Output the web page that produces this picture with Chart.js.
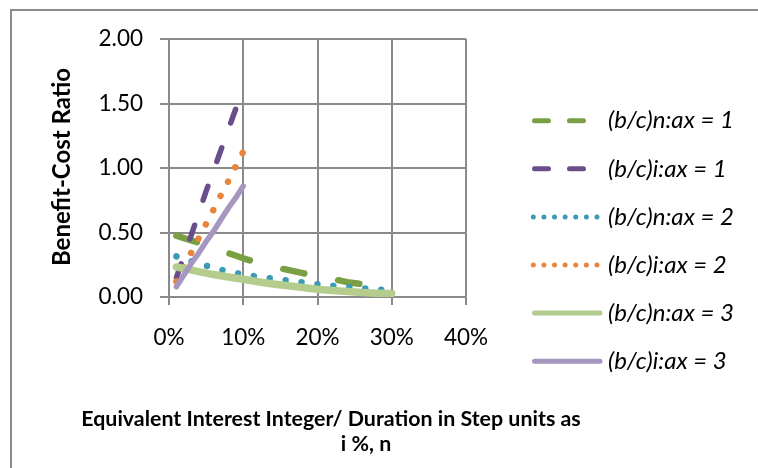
<!DOCTYPE html>
<html><head><meta charset="utf-8">
<script src="https://cdn.jsdelivr.net/npm/chart.js@4.4.1/dist/chart.umd.min.js"></script>
<style>html,body{margin:0;padding:0;background:#fff;overflow:hidden}#wrap{width:758px;height:468px;position:relative}</style>
</head><body><div id="wrap"><canvas id="c" width="758" height="468"></canvas></div>
<script>
// ---- data (x in %, y = benefit-cost ratio) ----
const seriesLabels = ['(b/c)n:ax = 1', '(b/c)i:ax = 1', '(b/c)n:ax = 2', '(b/c)i:ax = 2', '(b/c)n:ax = 3', '(b/c)i:ax = 3'];
const xTickValues = [0, 10, 20, 30, 40];
const yTickValues = [0, 0.5, 1.0, 1.5, 2.0];
const xTitleLines = ['Equivalent Interest Integer/ Duration in Step units as', 'i %, n'];
const yTitle = 'Benefit-Cost Ratio';

const nStepsShort = [1, 2, 4, 6, 8, 10, 12, 14, 16, 18, 20, 22, 24, 26, 28];
const nSteps = [1, 2, 4, 6, 8, 10, 12, 14, 16, 18, 20, 22, 24, 26, 28, 30];
const iSteps = [1, 2, 3, 4, 5, 6, 7, 8, 9, 10];

const bcN1 = [0.475, 0.457, 0.42, 0.38, 0.34, 0.30, 0.265, 0.235, 0.21, 0.185, 0.16, 0.14, 0.115, 0.10, 0.085];
const bcI1 = [0.15, 0.32, 0.48, 0.65, 0.82, 0.98, 1.14, 1.30, 1.46, 1.61];
const bcN2 = [0.315, 0.296, 0.26, 0.225, 0.198, 0.175, 0.157, 0.142, 0.128, 0.113, 0.099, 0.087, 0.076, 0.067, 0.059, 0.052];
const bcI2 = [0.12, 0.23, 0.345, 0.455, 0.567, 0.678, 0.79, 0.90, 1.015, 1.126];
const bcN3 = [0.233, 0.222, 0.197, 0.174, 0.155, 0.137, 0.118, 0.101, 0.087, 0.073, 0.060, 0.050, 0.042, 0.035, 0.030, 0.027];
const bcI3 = [0.08, 0.17, 0.26, 0.34, 0.43, 0.51, 0.60, 0.69, 0.77, 0.86];

const pts = (xs, ys) => xs.map((x, k) => ({x: x, y: ys[k]}));

const styles = [
  {c: '#7BA043', w: 6.5, dash: [21.5, 34.5], ldash: [14, 21]},
  {c: '#6A4E8C', w: 5.5, dash: [14.5, 26.5], ldash: [14, 21]},
  {c: '#3C9AB4', w: 6.5, dash: [0.01, 16], ldash: [0.01, 10.6]},
  {c: '#E8853A', w: 6.5, dash: [0.01, 16.05], ldash: [0.01, 10.6]},
  {c: '#B4CC8E', w: 7.5, dash: [], ldash: []},
  {c: '#A597C0', w: 5.5, dash: [], ldash: []}
];
const seriesData = [pts(nStepsShort, bcN1), pts(iSteps, bcI1), pts(nSteps, bcN2), pts(iSteps, bcI2), pts(nSteps, bcN3), pts(iSteps, bcI3)];

const datasets = seriesData.map((d, i) => ({
  label: seriesLabels[i],
  data: d,
  borderColor: styles[i].c,
  backgroundColor: styles[i].c,
  borderWidth: styles[i].w,
  borderDash: styles[i].dash,
  borderCapStyle: 'round',
  borderJoinStyle: 'round',
  pointRadius: 0,
  fill: false,
  tension: 0,
  order: 5 - i
}));

const FONT = 'Lato';
const gridColor = '#8a8a8a';

const decor = {
  id: 'decor',
  beforeDraw(chart) {
    const ctx = chart.ctx;
    ctx.save();
    ctx.fillStyle = '#fff';
    ctx.fillRect(0, 0, chart.width, chart.height);
    ctx.strokeStyle = '#8c8c8c';
    ctx.lineWidth = 2;
    ctx.strokeRect(11, 10, 900, 700);
    ctx.restore();
  },
  afterDraw(chart) {
    const ctx = chart.ctx;
    ctx.save();
    ctx.fillStyle = '#000';
    // y title
    ctx.font = 'bold 24px ' + FONT;
    ctx.textAlign = 'center';
    ctx.textBaseline = 'alphabetic';
    ctx.translate(70, 167);
    ctx.rotate(-Math.PI / 2);
    ctx.fillText(yTitle, 0, 0);
    ctx.setTransform(1, 0, 0, 1, 0, 0);
    // x title
    ctx.font = 'bold 21.4px ' + FONT;
    ctx.fillText(xTitleLines[0], 331, 426);
    ctx.fillText(xTitleLines[1], 366, 451);
    // legend
    const items = chart.data.datasets;
    items.forEach((ds, i) => {
      const y = 120.7 + i * 48.1;
      const st = styles[i];
      ctx.beginPath();
      ctx.strokeStyle = ds.borderColor;
      ctx.lineWidth = 5;
      ctx.lineCap = 'round';
      ctx.setLineDash(st.ldash);
      if (st.ldash.length && st.ldash[0] < 1) {
        ctx.moveTo(533.3, y); ctx.lineTo(599, y);
      } else {
        ctx.moveTo(534.5, y); ctx.lineTo(600, y);
      }
      ctx.stroke();
      ctx.setLineDash([]);
      ctx.font = 'italic 24px ' + FONT;
      ctx.textAlign = 'left';
      ctx.textBaseline = 'middle';
      ctx.fillStyle = '#000';
      ctx.fillText(ds.label, 608, y);
    });
    ctx.restore();
  }
};

new Chart(document.getElementById('c'), {
  type: 'line',
  data: {datasets: datasets},
  plugins: [decor],
  options: {
    responsive: false,
    animation: false,
    devicePixelRatio: 1,
    layout: {padding: {top: 39, right: 292, left: 0, bottom: 0}},
    plugins: {legend: {display: false}, tooltip: {enabled: false}, title: {display: false}},
    scales: {
      x: {
        type: 'linear', min: 0, max: 40,
        afterBuildTicks: (s) => { s.ticks = xTickValues.map(v => ({value: v})); },
        afterFit: (s) => { s.height = 171; },
        ticks: {callback: (v) => v + '%', color: '#000', font: {family: FONT, size: 22.5}, padding: 19, maxRotation: 0},
        grid: {color: gridColor, lineWidth: 2, tickLength: 8},
        border: {color: gridColor, width: 2}
      },
      y: {
        type: 'linear', min: 0, max: 2,
        afterBuildTicks: (s) => { s.ticks = yTickValues.map(v => ({value: v})); },
        afterFit: (s) => { s.width = 169; },
        ticks: {callback: (v) => Number(v).toFixed(2), color: '#000', font: {family: FONT, size: 22.5}, padding: 17},
        grid: {color: gridColor, lineWidth: 2, tickLength: 9},
        border: {color: gridColor, width: 2}
      }
    }
  }
});
</script></body></html>
